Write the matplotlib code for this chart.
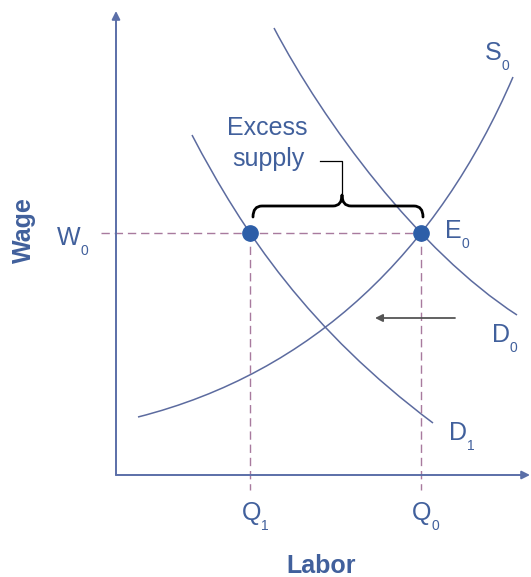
import numpy as np
import matplotlib
matplotlib.use("Agg")
import matplotlib.pyplot as plt
from matplotlib.path import Path
from matplotlib.patches import PathPatch

# Labor market diagram: demand shifts left from D0 to D1, wage stays at W0
# coordinates are in "chart units" measured from the axis origin
Q1 = 134
Q0 = 305
W0 = 242

# points (start, 1/3, 2/3, end)
supply_s0 = [(22, 58), (180, 127), (305, 242), (397, 398)]
demand_d0 = [(158, 447), (221, 345), (305, 242), (401, 160)]
demand_d1 = [(76, 340), (134, 242), (211, 146), (317, 52)]

shift_arrow = [(339, 157), (259, 157)]

# label, subscript, left/baseline of the letter
curve_labels = [
    ("S", "0", (369, 415)),
    ("E", "0", (329, 237)),
    ("D", "0", (376, 133)),
    ("D", "1", (333, 35)),
    ("W", "0", (-59, 230)),
    ("Q", "1", (126, -45)),
    ("Q", "0", (296, -45)),
]

TEXT = "#41609c"
CURVE = "#5c6b9f"
AXIS = "#5b6fa8"
DOT = "#2d5ea8"
DASH = "#a87a9e"
FONT = "Liberation Sans"


def bezier_through(pts):
    # cubic bezier passing through the four read points (t = 0, 1/3, 2/3, 1)
    p0, b1, b2, p3 = [np.array(p, float) for p in pts]
    r1 = 27 * b1 - 8 * p0 - p3
    r2 = 27 * b2 - p0 - 8 * p3
    c1 = (2 * r1 - r2) / 18
    c2 = (2 * r2 - r1) / 18
    return Path([p0, c1, c2, p3], [Path.MOVETO, Path.CURVE4, Path.CURVE4, Path.CURVE4])


fig = plt.figure(figsize=(5.31, 5.77), dpi=100)
ax = fig.add_axes([0, 0, 1, 1])
ax.set_xlim(-116, 415)
ax.set_ylim(-102, 475)
ax.axis("off")

# axes with arrow heads
ax.annotate("", xy=(0, 464), xytext=(0, 0),
            arrowprops=dict(arrowstyle="-|>", color=AXIS, lw=1.4, mutation_scale=12, shrinkA=0, shrinkB=0))
ax.annotate("", xy=(414, 0), xytext=(0, 0),
            arrowprops=dict(arrowstyle="-|>", color=AXIS, lw=1.4, mutation_scale=12, shrinkA=0, shrinkB=0))

# dashed guides
ax.plot([-15, Q0], [W0, W0], color=DASH, lw=1.0, dashes=(6, 3.5))
ax.plot([Q1, Q1], [W0, -15], color=DASH, lw=1.0, dashes=(6, 3.5))
ax.plot([Q0, Q0], [W0, -15], color=DASH, lw=1.0, dashes=(6, 3.5))

# curves
for pts in (supply_s0, demand_d0, demand_d1):
    ax.add_patch(PathPatch(bezier_through(pts), fill=False, edgecolor=CURVE, lw=1.1))

# shift arrow
ax.annotate("", xy=shift_arrow[1], xytext=shift_arrow[0],
            arrowprops=dict(arrowstyle="-|>", color="#555555", lw=1.3, mutation_scale=11, shrinkA=0, shrinkB=0))

# points
ax.plot([Q1, Q0], [W0, W0], "o", color=DOT, markersize=11, zorder=5)

# curly brace over the excess supply
left, right, tip = Q1 + 3, Q0 + 2, 226
yb, ym, yt = W0 + 16, W0 + 27, W0 + 38
brace = Path(
    [(left, yb), (left, ym), (left + 9, ym), (tip - 9, ym), (tip, ym), (tip, yt),
     (tip, ym), (tip + 9, ym), (right - 9, ym), (right, ym), (right, yb)],
    [Path.MOVETO, Path.CURVE3, Path.CURVE3, Path.LINETO, Path.CURVE3, Path.CURVE3,
     Path.CURVE3, Path.CURVE3, Path.LINETO, Path.CURVE3, Path.CURVE3])
ax.add_patch(PathPatch(brace, fill=False, edgecolor="black", lw=2.0, capstyle="round", joinstyle="round"))
ax.plot([204, tip, tip], [314, 314, yt], color="black", lw=0.9)

ax.text(151, 340, "Excess", color=TEXT, fontsize=18, family=FONT, ha="center", va="baseline")
ax.text(152, 309, "supply", color=TEXT, fontsize=18, family=FONT, ha="center", va="baseline")

for letter, sub, pos in curve_labels:
    t = ax.text(pos[0], pos[1], letter, color=TEXT, fontsize=18, family=FONT, ha="left", va="baseline")
    # subscript hangs just after the letter, below its baseline
    ax.annotate(sub, xy=(1, 0), xycoords=t, xytext=(0, -3.5), textcoords="offset points",
                color=TEXT, fontsize=10, family=FONT, ha="left", va="baseline")

ax.text(205, -98, "Labor", color=TEXT, fontsize=18, fontweight="bold", family=FONT, ha="center", va="baseline")
ax.text(-92, 245, "Wage", color=TEXT, fontsize=18, fontweight="bold", family=FONT,
        ha="center", va="center", rotation=90)

fig.savefig("out.png", dpi=100)
